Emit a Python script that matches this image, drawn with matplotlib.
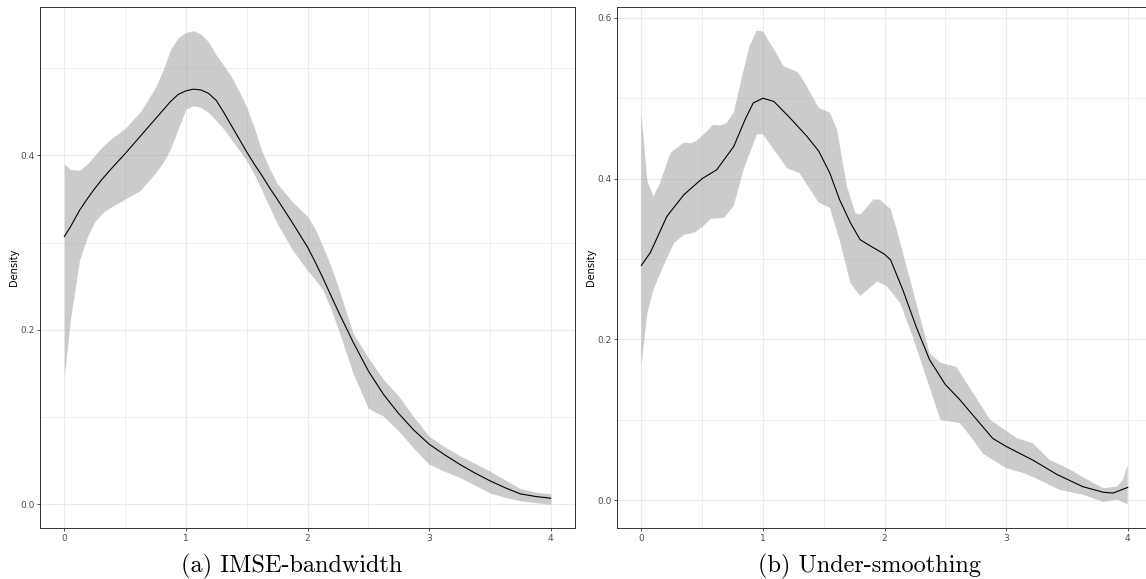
import matplotlib
matplotlib.use("Agg")
import matplotlib.pyplot as plt
from matplotlib.ticker import MultipleLocator

# (a) IMSE-bandwidth : estimate and band
imse_x = [0, 0.05, 0.125, 0.1875, 0.25, 0.3125, 0.375, 0.5, 0.625, 0.75, 0.8125,
          0.875, 0.9375, 1.0, 1.0625, 1.125, 1.1875, 1.25, 1.3125, 1.375, 1.4375,
          1.5, 1.5625, 1.625, 1.6875, 1.75, 1.875, 2.0, 2.0625, 2.125, 2.1875,
          2.25, 2.375, 2.5, 2.625, 2.75, 2.875, 3.0, 3.125, 3.25, 3.375, 3.5,
          3.625, 3.75, 3.875, 4.0]
imse_fit = [0.307, 0.318, 0.337, 0.350, 0.362, 0.373, 0.383, 0.402, 0.422, 0.442,
            0.452, 0.462, 0.470, 0.474, 0.476, 0.475, 0.471, 0.463, 0.449, 0.434,
            0.419, 0.404, 0.390, 0.377, 0.363, 0.350, 0.323, 0.295, 0.278, 0.260,
            0.241, 0.222, 0.186, 0.153, 0.126, 0.104, 0.085, 0.069, 0.057, 0.046,
            0.036, 0.027, 0.019, 0.012, 0.009, 0.007]
imse_hi = [0.390, 0.384, 0.383, 0.390, 0.400, 0.410, 0.418, 0.431, 0.450, 0.478,
           0.498, 0.522, 0.535, 0.541, 0.543, 0.539, 0.530, 0.515, 0.503, 0.490,
           0.474, 0.455, 0.432, 0.405, 0.385, 0.368, 0.347, 0.330, 0.316, 0.296,
           0.275, 0.250, 0.196, 0.168, 0.143, 0.124, 0.100, 0.078, 0.066, 0.056,
           0.047, 0.038, 0.028, 0.018, 0.014, 0.012]
imse_lo = [0.145, 0.212, 0.280, 0.306, 0.324, 0.334, 0.340, 0.350, 0.360, 0.380,
           0.392, 0.408, 0.431, 0.453, 0.457, 0.455, 0.449, 0.440, 0.430, 0.418,
           0.406, 0.394, 0.378, 0.360, 0.341, 0.322, 0.292, 0.268, 0.258, 0.246,
           0.226, 0.202, 0.150, 0.110, 0.101, 0.084, 0.064, 0.046, 0.038, 0.031,
           0.022, 0.013, 0.008, 0.004, 0.002, 0.000]

# (b) Under-smoothing : estimate
us_x = [0.0, 0.074, 0.21, 0.35, 0.5, 0.62, 0.76, 0.855, 0.92, 1.0, 1.09, 1.22, 1.36,
        1.46, 1.55, 1.63, 1.72, 1.80, 1.91, 2.0, 2.05, 2.15, 2.26, 2.37, 2.5, 2.62,
        2.76, 2.89, 3.0, 3.22, 3.42, 3.63, 3.80, 3.88, 4.0]
us_fit = [0.292, 0.308, 0.353, 0.380, 0.400, 0.411, 0.440, 0.474, 0.494, 0.500,
          0.496, 0.476, 0.453, 0.434, 0.407, 0.374, 0.345, 0.324, 0.314, 0.306,
          0.299, 0.262, 0.216, 0.175, 0.144, 0.125, 0.100, 0.077, 0.067, 0.050,
          0.032, 0.017, 0.010, 0.009, 0.016]
# upper edge of band
us_hi_x = [0.0, 0.05, 0.1, 0.15, 0.24, 0.35, 0.41, 0.455, 0.54, 0.59, 0.65, 0.70,
           0.76, 0.83, 0.89, 0.95, 1.0, 1.09, 1.17, 1.29, 1.36, 1.46, 1.55, 1.61,
           1.69, 1.76, 1.80, 1.91, 1.96, 2.05, 2.10, 2.24, 2.37, 2.46, 2.59, 2.68,
           2.87, 3.09, 3.22, 3.36, 3.53, 3.63, 3.80, 3.91, 3.96, 4.0]
us_hi = [0.482, 0.397, 0.378, 0.393, 0.432, 0.445, 0.444, 0.447, 0.459, 0.467,
         0.466, 0.469, 0.482, 0.528, 0.565, 0.584, 0.583, 0.561, 0.540, 0.532,
         0.515, 0.488, 0.482, 0.461, 0.391, 0.357, 0.355, 0.374, 0.374, 0.362,
         0.337, 0.258, 0.183, 0.171, 0.166, 0.145, 0.100, 0.077, 0.071, 0.050,
         0.038, 0.029, 0.015, 0.017, 0.025, 0.044]
# lower edge of band
us_lo_x = [0.0, 0.05, 0.10, 0.18, 0.27, 0.35, 0.44, 0.51, 0.57, 0.68, 0.76, 0.84,
           0.95, 1.0, 1.09, 1.20, 1.30, 1.46, 1.55, 1.63, 1.72, 1.80, 1.94, 2.02,
           2.13, 2.24, 2.35, 2.46, 2.62, 2.73, 2.81, 3.0, 3.14, 3.25, 3.44, 3.63,
           3.80, 3.91, 4.0]
us_lo = [0.166, 0.233, 0.262, 0.291, 0.320, 0.330, 0.333, 0.341, 0.350, 0.351,
         0.366, 0.411, 0.455, 0.455, 0.436, 0.413, 0.407, 0.370, 0.364, 0.324,
         0.270, 0.254, 0.272, 0.266, 0.245, 0.200, 0.150, 0.100, 0.096, 0.075,
         0.058, 0.040, 0.034, 0.027, 0.013, 0.007, -0.002, 0.001, -0.005]

captions = ["(a) IMSE-bandwidth", "(b) Under-smoothing"]

W, H = 1146, 579
fig = plt.figure(figsize=(W / 100, H / 100), dpi=100)

# axes boxes in pixels: left, top, right, bottom
boxes = [(40, 7, 575, 528), (617, 7, 1152, 528)]


def make_ax(box):
    l, t, r, b = box
    ax = fig.add_axes([l / W, 1 - b / H, (r - l) / W, (b - t) / H])
    ax.set_xlim(-0.2, 4.2)
    ax.xaxis.set_major_locator(MultipleLocator(1))
    ax.xaxis.set_minor_locator(MultipleLocator(0.5))
    ax.yaxis.set_major_locator(MultipleLocator(0.2))
    ax.yaxis.set_minor_locator(MultipleLocator(0.1))
    ax.grid(which="major", color="#EBEBEB", lw=0.8)
    ax.grid(which="minor", color="#EBEBEB", lw=0.6)
    ax.set_axisbelow(True)
    for s in ax.spines.values():
        s.set_color("#333333")
        s.set_linewidth(0.7)
    ax.tick_params(which="major", length=2.5, width=0.6, color="#333333",
                   labelsize=6.5, labelcolor="#4D4D4D", pad=1.5)
    ax.tick_params(which="minor", length=0)
    ax.yaxis.set_major_formatter(plt.FuncFormatter(lambda v, p: f"{v:.1f}"))
    ax.set_ylabel("Density", fontsize=7, labelpad=1.0)
    return ax


def ylims(vals):
    lo, hi = min(vals), max(vals)
    r = hi - lo
    return lo - 0.05 * r, hi + 0.05 * r


# left panel
ax1 = make_ax(boxes[0])
ax1.fill_between(imse_x, imse_lo, imse_hi, color="#999999", alpha=0.5, lw=0)
ax1.plot(imse_x, imse_fit, color="black", lw=0.8)
ax1.set_ylim(*ylims(imse_lo + imse_hi))

# right panel
ax2 = make_ax(boxes[1])
ax2.fill(us_hi_x + us_lo_x[::-1], us_hi + us_lo[::-1], color="#999999", alpha=0.5, lw=0)
ax2.plot(us_x, us_fit, color="black", lw=0.8)
ax2.set_ylim(*ylims(us_lo + us_hi))

# captions
fig.text(292 / W, 1 - 566 / H, captions[0], family="cmr10", fontsize=17.5,
         ha="center", va="center")
fig.text(869 / W, 1 - 566 / H, captions[1], family="cmr10", fontsize=17.5,
         ha="center", va="center")

fig.savefig("out.png", dpi=100)
